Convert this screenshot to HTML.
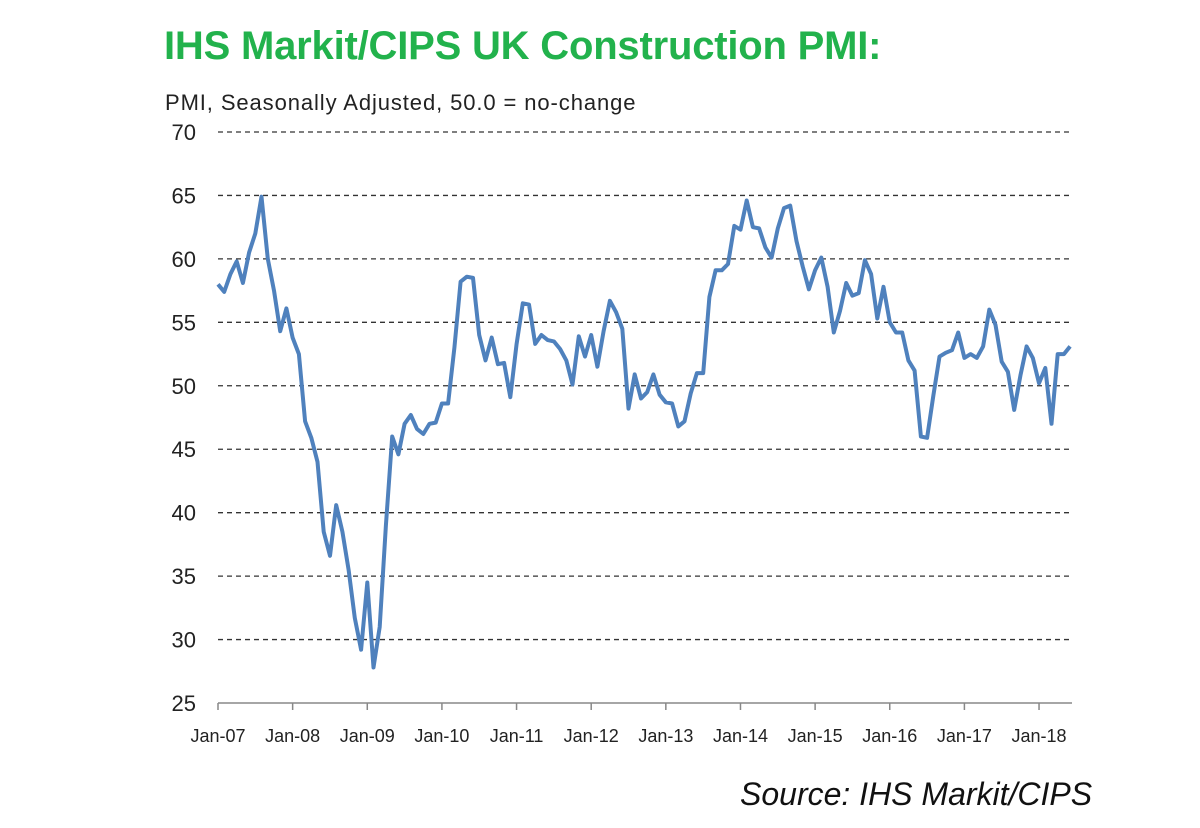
<!DOCTYPE html>
<html><head><meta charset="utf-8">
<style>
body{margin:0;background:#fff;width:1200px;height:828px;overflow:hidden;font-family:"Liberation Sans",sans-serif;}
#title{position:absolute;left:164px;top:24px;font-size:40px;font-weight:bold;color:#22b24c;letter-spacing:-0.2px;}
#sub{position:absolute;left:165px;top:90px;font-size:22px;color:#222;letter-spacing:0.9px;}
#src{position:absolute;left:740px;top:776px;font-size:32px;font-style:italic;color:#111;}
svg{position:absolute;left:0;top:0;}
</style></head><body>
<div id="title">IHS Markit/CIPS UK Construction PMI:</div>
<div id="sub">PMI, Seasonally Adjusted, 50.0 = no-change</div>
<div id="src">Source: IHS Markit/CIPS</div>
<svg id="chart" width="1200" height="828"></svg>
<script>
const yTicks=[25,30,35,40,45,50,55,60,65,70];
const xLabels=["Jan-07","Jan-08","Jan-09","Jan-10","Jan-11","Jan-12","Jan-13","Jan-14","Jan-15","Jan-16","Jan-17","Jan-18"];
const pmiValues=[
58,57.4,58.8,59.8,58.1,60.5,62,64.9,60,57.5,54.3,56.1,
53.8,52.5,47.2,45.9,44,38.5,36.6,40.6,38.5,35.5,31.7,29.2,
34.5,27.8,31,39,46,44.6,47,47.7,46.6,46.2,47,47.1,
48.6,48.6,53,58.2,58.6,58.5,54,52,53.8,51.7,51.8,49.1,
53.3,56.5,56.4,53.3,54,53.6,53.5,52.9,52,50.1,53.9,52.3,
54,51.5,54.3,56.7,55.8,54.5,48.2,50.9,49,49.5,50.9,49.3,
48.7,48.6,46.8,47.2,49.4,51,51,57,59.1,59.1,59.6,62.6,
62.3,64.6,62.5,62.4,60.9,60.1,62.4,64,64.2,61.4,59.4,57.6,
59.1,60.1,57.8,54.2,55.9,58.1,57.1,57.3,59.9,58.8,55.3,57.8,
55,54.2,54.2,52,51.2,46,45.9,49.2,52.3,52.6,52.8,54.2,
52.2,52.5,52.2,53.1,56,54.8,51.9,51.1,48.1,50.8,53.1,52.2,
50.2,51.4,47,52.5,52.5,53.1];
const svg=document.getElementById('chart');
const NS='http://www.w3.org/2000/svg';
const L=218,R=1072,T=132,B=703;
const x=i=>L+i*6.22;
const y=v=>B-(v-25)/45*(B-T);
function mk(t,a){const e=document.createElementNS(NS,t);for(const k in a)e.setAttribute(k,a[k]);svg.appendChild(e);return e;}
yTicks.forEach(v=>{
  if(v>25){const g=mk('line',{x1:L,x2:R,y1:y(v),y2:y(v),stroke:'#333','stroke-width':1.3,'stroke-dasharray':'5,4'});
  
  }
  const t=mk('text',{x:196,y:y(v)+8,'text-anchor':'end','font-size':22,fill:'#222','font-family':'Liberation Sans, sans-serif'});
  t.textContent=v;
  
  
});
const ax=mk('line',{x1:L,x2:R,y1:B,y2:B,stroke:'#888','stroke-width':1.5});


xLabels.forEach((s,k)=>{
  const px=x(k*12);
  const tk=mk('line',{x1:px,x2:px,y1:B,y2:B+7,stroke:'#888','stroke-width':1.5});
  
  
  const t=mk('text',{x:px,y:B+39,'text-anchor':'middle','font-size':18,fill:'#222','font-family':'Liberation Sans, sans-serif'});
  t.textContent=s;
  
  
});
const d=pmiValues.map((v,i)=>(i?'L':'M')+x(i).toFixed(1)+','+y(v).toFixed(1)).join('');
const p=mk('path',{d:d,fill:'none',stroke:'#4f81bd','stroke-width':4,'stroke-linejoin':'round'});


</script>
</body></html>
